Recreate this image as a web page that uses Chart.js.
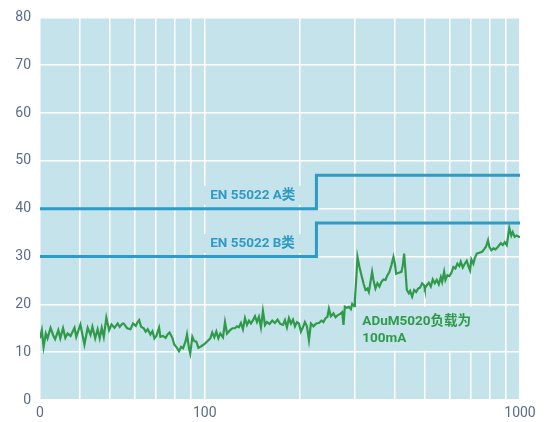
<!DOCTYPE html>
<html>
<head>
<meta charset="utf-8">
<script src="https://cdn.jsdelivr.net/npm/chart.js@4/dist/chart.umd.min.js"></script>
<style>
  body { margin: 0; background: #fff; }
  #wrap { width: 547px; height: 422px; }
</style>
</head>
<body>
<div id="wrap"><canvas id="emiChart"></canvas></div>
<script>
// x axis ticks (MHz, log scale) - gridlines at each, labels only on a few
const xTickValues = [30, 40, 50, 60, 70, 80, 90, 100, 200, 300, 400, 500, 600, 700, 800, 900, 1000];
const xTickLabels = { 30: '0', 100: '100', 1000: '1000' };

// EN 55022 limit lines (step at ~226 MHz)
const limitFreq = [30, 226, 1000];
const classA = [40, 47, 47];
const classB = [30, 37, 37];

// measured emission of ADuM5020 at 100mA load
const emiFreq = [
  30.0, 30.4, 30.8, 31.3, 31.7, 32.4, 33.0, 33.5, 34.3, 34.8, 35.5, 36.1, 36.7, 37.5, 38.6, 39.1,
  40.3, 41.5, 42.5, 43.4, 44.0, 44.9, 45.7, 46.4, 47.1, 47.8, 48.7, 49.7, 50.6, 51.7, 52.9, 53.7,
  54.8, 55.3, 56.7, 58.1, 59.2, 60.4, 61.2, 61.9, 62.8, 64.0, 64.9, 65.9, 67.2, 68.2, 69.2, 70.2,
  71.6, 72.3, 73.7, 75.1, 76.2, 77.3, 78.9, 80.0, 81.6, 82.8, 84.1, 85.3, 86.9, 87.8, 89.1, 89.9,
  91.3, 92.6, 94.0, 95.4, 97.7, 100.1, 101.6, 104.1, 105.6, 107.2, 108.8, 110.4, 112.0, 114.2,
  115.9, 117.6, 119.9, 122.3, 124.6, 126.5, 128.3, 130.2, 132.1, 134.1, 136.1, 138.1, 140.1,
  142.2, 144.3, 146.4, 148.5, 150.7, 152.9, 155.2, 157.4, 160.5, 163.7, 166.9, 170.1, 173.5,
  177.0, 179.6, 182.2, 184.9, 187.6, 190.4, 193.2, 196.0, 198.9, 201.8, 204.8, 207.8, 210.9,
  214.0, 217.1, 221.3, 225.6, 230.1, 234.5, 237.9, 241.5, 245.0, 247.6, 251.2, 256.0, 259.8,
  263.6, 268.9, 272.8, 275.4, 278.2, 282.3, 286.5, 290.7, 293.5, 297.8, 299.3, 302.2, 305.1,
  309.5, 314.1, 318.7, 323.4, 328.1, 331.4, 336.3, 339.5, 342.8, 347.8, 352.9, 358.1, 363.4,
  368.7, 374.2, 379.7, 385.3, 391.0, 396.7, 400.8, 404.6, 412.6, 420.6, 424.9, 428.9, 433.1,
  437.5, 443.9, 448.1, 454.7, 461.4, 468.2, 475.0, 482.0, 489.1, 496.3, 498.9, 506.2, 513.6,
  521.2, 528.9, 536.7, 544.6, 552.6, 560.8, 566.1, 574.4, 579.9, 588.4, 597.0, 605.8, 614.7,
  623.7, 632.9, 642.2, 648.7, 658.3, 668.0, 677.8, 687.7, 694.3, 700.9, 711.2, 718.5, 729.1,
  743.1, 758.0, 769.1, 780.4, 791.9, 799.4, 811.1, 823.1, 835.2, 847.5, 859.9, 868.7, 881.5,
  894.5, 907.7, 916.2, 924.9, 938.4, 948.1, 962.1, 976.1, 995.0, 1000
];
const emiLevel = [
  12.9, 14.6, 11.1, 13.9, 12.9, 15.1, 13.6, 12.7, 14.6, 12.9, 15.0, 13.0, 13.9, 13.4, 15.1, 13.2,
  15.8, 11.6, 15.1, 13.6, 15.3, 12.9, 14.8, 12.9, 15.1, 13.2, 17.2, 14.6, 15.8, 15.1, 16.0, 15.3,
  16.0, 16.0, 15.0, 14.8, 16.0, 15.5, 16.3, 16.7, 15.3, 15.0, 14.3, 14.8, 13.7, 14.4, 12.9, 13.4,
  15.1, 13.2, 13.4, 13.0, 13.7, 14.1, 13.0, 11.6, 10.9, 10.2, 11.1, 10.8, 12.3, 13.7, 10.8, 9.7,
  13.2, 12.3, 12.2, 10.9, 11.3, 11.8, 12.2, 12.9, 14.1, 13.1, 14.3, 12.9, 13.9, 13.1,
  16.3, 13.9, 14.5, 15.0, 15.0, 15.4, 15.2, 16.1, 14.8, 17.1, 15.7, 16.6, 16.0,
  16.7, 17.5, 16.3, 17.4, 15.2, 18.6, 15.7, 16.3, 15.9, 16.6, 16.1, 16.8, 15.9,
  15.7, 16.7, 15.2, 17.1, 16.0, 16.8, 15.4, 16.3, 16.0, 14.3, 15.2, 16.3, 15.4,
  12.5, 16.0, 15.4, 16.0, 16.1, 16.6, 16.3, 17.1, 17.4, 19.1, 17.5, 18.1, 17.3,
  17.7, 18.0, 18.4, 15.7, 19.5, 19.3, 19.5, 19.0, 20.1, 19.6, 20.9, 25.1, 29.9,
  27.8, 26.1, 24.4, 23.0, 23.3, 22.6, 25.1, 26.8, 25.1, 23.3, 24.4, 23.7, 24.7,
  25.2, 25.1, 26.1, 26.8, 28.2, 29.9, 28.5, 26.4, 26.6, 26.8, 28.2, 30.6, 27.1,
  23.0, 22.3, 22.8, 21.6, 23.0, 22.6, 23.3, 23.5, 24.4, 24.0, 23.3, 24.0, 24.5,
  23.7, 25.2, 24.4, 25.1, 24.2, 25.7, 24.7, 26.8, 25.1, 26.1, 25.9, 26.6, 27.8,
  27.5, 28.5, 28.0, 28.9, 27.7, 28.5, 29.1, 27.8, 27.1, 29.4, 28.5, 29.6, 30.6,
  30.8, 31.0, 31.5, 32.1, 33.4, 32.0, 31.3, 31.7, 31.5, 31.9, 32.4, 32.8, 32.4,
  33.0, 32.4, 34.1, 36.0, 34.4, 35.1, 34.1, 34.4, 34.1, 34.0
];

const plotBg = '#c5e3ea';
const limitColor = '#2e9ac6';
const emiColor = '#2f9a4a';
const tickColor = '#5b6b8a';

function toPoints(xs, ys) {
  return xs.map((x, i) => ({ x: x, y: ys[i] }));
}

// fill chart area with the light blue background
const plotBackground = {
  id: 'plotBackground',
  beforeDraw(chart) {
    const { ctx, chartArea: a } = chart;
    ctx.save();
    ctx.fillStyle = plotBg;
    ctx.fillRect(a.left, a.top, a.right - a.left, a.bottom - a.top);
    ctx.restore();
  }
};

// text labels with a background box that hides the gridlines behind them
const notes = [
  { lines: ['EN 55022 A类'], x: 104, y: 42.7, color: limitColor, box: [-7, 8, -10, 9] },
  { lines: ['EN 55022 B类'], x: 104, y: 32.6, color: limitColor, box: [-7, 8, -10, 9] },
  { lines: ['ADuM5020负载为', '100mA'], x: 316, y: 16.4, color: emiColor, box: [-4, 22, -15, 12] }
];
const noteLabels = {
  id: 'noteLabels',
  beforeDatasetsDraw(chart) {
    const ctx = chart.ctx;
    const xs = chart.scales.x, ys = chart.scales.y;
    ctx.save();
    ctx.font = 'bold 13.5px Roboto, "Noto Sans CJK SC", sans-serif';
    ctx.textBaseline = 'middle';
    ctx.textAlign = 'left';
    notes.forEach(n => {
      const px = xs.getPixelForValue(n.x);
      const py = ys.getPixelForValue(n.y);
      const w = Math.max(...n.lines.map(t => ctx.measureText(t).width));
      const lineH = 17;
      ctx.fillStyle = plotBg;
      ctx.fillRect(px + n.box[0], py + n.box[2], w - n.box[0] + n.box[1],
        (n.lines.length - 1) * lineH - n.box[2] + n.box[3]);
      ctx.fillStyle = n.color;
      n.lines.forEach((t, i) => ctx.fillText(t, px, py + i * lineH));
    });
    ctx.restore();
  }
};

const ctx = document.getElementById('emiChart').getContext('2d');
const emiChart = new Chart(ctx, {
  type: 'line',
  data: {
    datasets: [
      {
        label: 'EN 55022 A类',
        data: toPoints(limitFreq, classA),
        borderColor: limitColor,
        borderWidth: 3,
        stepped: true,
        pointRadius: 0
      },
      {
        label: 'EN 55022 B类',
        data: toPoints(limitFreq, classB),
        borderColor: limitColor,
        borderWidth: 3,
        stepped: true,
        pointRadius: 0
      },
      {
        label: 'ADuM5020负载为100mA',
        data: toPoints(emiFreq, emiLevel),
        borderColor: emiColor,
        borderWidth: 2.2,
        tension: 0,
        pointRadius: 0
      }
    ]
  },
  options: {
    responsive: true,
    maintainAspectRatio: false,
    animation: false,
    layout: { padding: { top: 17, right: 27, left: 0, bottom: 0 } },
    plugins: {
      legend: { display: false },
      tooltip: { enabled: false }
    },
    scales: {
      x: {
        type: 'logarithmic',
        min: 30,
        max: 1000,
        afterBuildTicks: scale => {
          scale.ticks = xTickValues.map(v => ({ value: v }));
        },
        afterFit: scale => { scale.height = 22; },
        grid: { color: '#ffffff', lineWidth: 1.5, drawTicks: false },
        border: { display: false },
        ticks: {
          autoSkip: false,
          maxRotation: 0,
          padding: 5,
          color: tickColor,
          font: { family: 'Roboto', size: 14 },
          callback: value => xTickLabels[value] || ''
        }
      },
      y: {
        min: 0,
        max: 80,
        afterFit: scale => { scale.width = 40; },
        grid: { color: '#ffffff', lineWidth: 1.5, drawTicks: false },
        border: { display: false },
        ticks: {
          stepSize: 10,
          padding: 9,
          color: tickColor,
          font: { family: 'Roboto', size: 14 }
        }
      }
    }
  },
  plugins: [plotBackground, noteLabels]
});
</script>
</body>
</html>
